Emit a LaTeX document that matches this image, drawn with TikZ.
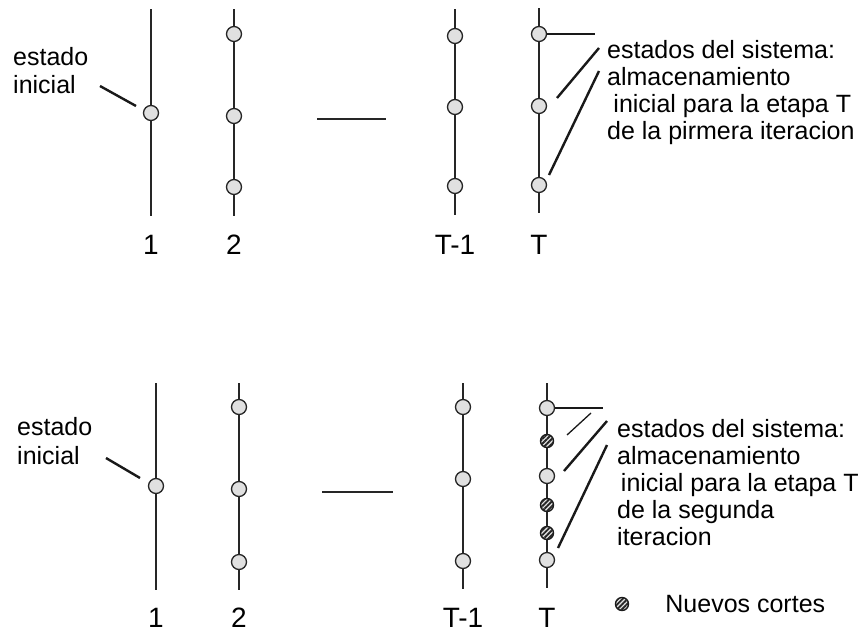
\documentclass[tikz,border=0pt]{standalone}
\usepackage{fontspec}
\setmainfont{Liberation Sans}
\usetikzlibrary{positioning,patterns.meta}
\tikzset{
    stagel/.style = {draw, line width=1.3pt, black!85},
    est/.style = {draw, circle, line width=1.3pt, black!85, fill=black!12,
        inner sep=0pt, minimum size=15pt},
    corte/.style = {draw, circle, line width=1.4pt, black!90, fill=black!10,
        inner sep=0pt, minimum size=13pt,
        postaction={pattern={Lines[angle=45,distance=3.4pt,line width=1.9pt]}, pattern color=black!85}},
    leader/.style = {draw, line width=2.4pt, black!90},
    thinleader/.style = {draw, line width=1.3pt, black!90},
    etiq/.style = {font=\fontsize{28}{30}\selectfont, inner sep=0pt},
    txt/.style = {font=\fontsize{25}{27}\selectfont, align=left, inner sep=0pt}
}

\begin{document}
\begin{tikzpicture}[x=1pt,y=-1pt]
        \useasboundingbox (0,0) rectangle (862,635);
        % primera iteracion
        \coordinate (a1t) at (151,9);   \coordinate (a1b) at (151,216);
        \coordinate (a2t) at (234,9);   \coordinate (a2b) at (234,216);
        \coordinate (a3t) at (455,9);   \coordinate (a3b) at (455,215);
        \coordinate (a4t) at (539,8);   \coordinate (a4b) at (539,213);
        \draw[stagel] (a1t) -- (a1b);
        \draw[stagel] (a2t) -- (a2b);
        \draw[stagel] (a3t) -- (a3b);
        \draw[stagel] (a4t) -- (a4b);
        \coordinate (ad1) at (317,119); \coordinate (ad2) at (386,119);
        \draw[stagel] (ad1) -- (ad2);
        \node [est] (a1) at (151,113) {};
        \node [est] (a2x) at (234,34) {};
        \node [est] (a2y) at (234,116) {};
        \node [est] (a2z) at (234,187) {};
        \node [est] (a3x) at (455,36) {};
        \node [est] (a3y) at (455,107) {};
        \node [est] (a3z) at (455,186) {};
        \node [est] (a4x) at (539,34) {};
        \node [est] (a4y) at (539,106) {};
        \node [est] (a4z) at (539,185) {};
        \node [etiq, below=19pt of a1b] (an1) {1};
        \node [etiq, below=19pt of a2b] (an2) {2};
        \node [etiq, below=20pt of a3b] (an3) {T-1};
        \node [etiq, below=22pt of a4b] (an4) {T};
        \node [txt, anchor=north west, font=\fontsize{25}{28}\selectfont] (aini) at (13,47) {estado\\inicial};
        \coordinate (aini1) at (100,86);  \coordinate (aini2) at (136,106);
        \draw[leader] (aini1) -- (aini2);
        \node [txt, anchor=north west] (asis) at (607,40)
            {estados del sistema:\\almacenamiento\\\hspace{0.25em}inicial para la etapa T\\de la pirmera iteracion};
        \coordinate (al1) at (595,34);
        \coordinate (al2a) at (557,98);  \coordinate (al2b) at (599,48);
        \coordinate (al3a) at (549,175); \coordinate (al3b) at (599,71);
        \draw[leader] (a4x) -- (al1);
        \draw[leader] (al2a) -- (al2b);
        \draw[leader] (al3a) -- (al3b);
        % segunda iteracion
        \coordinate (b1t) at (156,383); \coordinate (b1b) at (156,590);
        \coordinate (b2t) at (239,383); \coordinate (b2b) at (239,590);
        \coordinate (b3t) at (463,383); \coordinate (b3b) at (463,589);
        \coordinate (b4t) at (547,383); \coordinate (b4b) at (547,588);
        \draw[stagel] (b1t) -- (b1b);
        \draw[stagel] (b2t) -- (b2b);
        \draw[stagel] (b3t) -- (b3b);
        \draw[stagel] (b4t) -- (b4b);
        \coordinate (bd1) at (322,492); \coordinate (bd2) at (393,492);
        \draw[stagel] (bd1) -- (bd2);
        \node [est] (b1) at (156,486) {};
        \node [est] (b2x) at (239,407) {};
        \node [est] (b2y) at (239,489) {};
        \node [est] (b2z) at (239,562) {};
        \node [est] (b3x) at (463,407) {};
        \node [est] (b3y) at (463,479) {};
        \node [est] (b3z) at (463,561) {};
        \node [est] (b4x) at (547,408) {};
        \node [corte] (b4c1) at (547,441) {};
        \node [est] (b4y) at (547,476) {};
        \node [corte] (b4c2) at (547,505) {};
        \node [corte] (b4c3) at (547,533) {};
        \node [est] (b4z) at (547,560) {};
        \node [etiq, below=18pt of b1b] (bn1) {1};
        \node [etiq, below=18pt of b2b] (bn2) {2};
        \node [etiq, below=19pt of b3b] (bn3) {T-1};
        \node [etiq, below=20pt of b4b] (bn4) {T};
        \node [txt, anchor=north west, font=\fontsize{25}{29}\selectfont] (bini) at (17,417) {estado\\inicial};
        \coordinate (bini1) at (106,458); \coordinate (bini2) at (140,478);
        \draw[leader] (bini1) -- (bini2);
        \node [txt, anchor=north west] (bsis) at (617,419)
            {estados del sistema:\\almacenamiento\\\hspace{0.15em}inicial para la etapa T\\de la segunda\\iteracion};
        \coordinate (bl1) at (603,408);
        \coordinate (bl0a) at (567,435); \coordinate (bl0b) at (591,413);
        \coordinate (bl2a) at (564,471); \coordinate (bl2b) at (607,421);
        \coordinate (bl3a) at (558,548); \coordinate (bl3b) at (607,445);
        \draw[leader] (b4x) -- (bl1);
        \draw[thinleader] (bl0a) -- (bl0b);
        \draw[leader] (bl2a) -- (bl2b);
        \draw[leader] (bl3a) -- (bl3b);
        \node [corte] (ley) at (622,604) {};
        \node [txt, right=36pt of ley] (leyt) {Nuevos cortes};
    \end{tikzpicture}
\end{document}
